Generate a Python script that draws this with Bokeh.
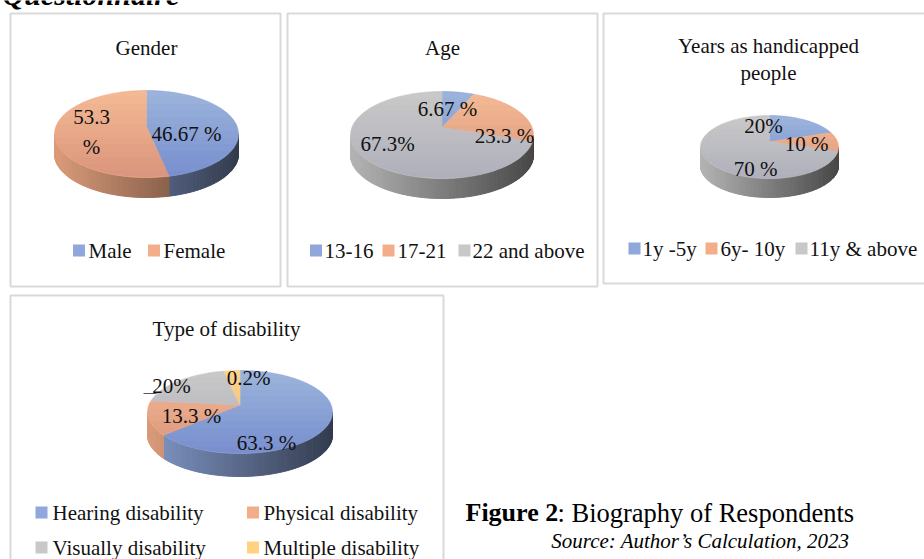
import numpy as np
from bokeh.plotting import figure
from bokeh.models import Range1d, ColumnDataSource
from bokeh.core.properties import value
from bokeh.embed import file_html
from bokeh.resources import INLINE

# ---------------- data ----------------
gender_categories = ["Male", "Female"]
gender_values = [46.67, 53.3]
gender_labels = ["46.67 %", "53.3\n%"]

age_categories = ["13-16", "17-21", "22 and above"]
age_values = [6.67, 23.3, 70.0]
age_labels = ["6.67 %", "23.3 %", "67.3%"]

years_categories = ["1y -5y", "6y- 10y", "11y & above"]
years_values = [20.0, 10.0, 70.0]
years_labels = ["20%", "10 %", "70 %"]

disability_categories = ["Hearing disability", "Physical disability",
                         "Visually disability", "Multiple disability"]
disability_values = [63.3, 13.3, 20.0, 3.3]
disability_labels = ["63.3 %", "13.3 %", "20%", "0.2%"]

# ---------------- styling ----------------
BLUE, SALMON, GREY, YELLOW = "#8FA7DB", "#F3AD88", "#C8C8C8", "#FFD27F"
FONT = value("Liberation Serif")
TXT = "#111111"
FRAME = "#D9D9D9"
P = 0.17  # perspective of the 3-D pies

panels = [
    dict(frame=(10, 13, 280, 286), titles=[("Gender", 146, 47)],
         pie=(146, 133.5, 92, 43.5, 20),
         cats=gender_categories, vals=gender_values, labs=gender_labels,
         lab_xy=[(186, 133), (91, 131)],
         legend=[(78.5, 88, 250), (153.5, 163, 250)],
         colors=[BLUE, SALMON]),
    dict(frame=(287, 13, 597, 286), titles=[("Age", 442, 47)],
         pie=(441.5, 134.5, 91.5, 43.5, 20),
         cats=age_categories, vals=age_values, labs=age_labels,
         lab_xy=[(447, 108), (504, 135), (387, 143)],
         legend=[(315.5, 324, 250), (388, 397, 250), (464, 472, 250)],
         colors=[BLUE, SALMON, GREY]),
    dict(frame=(603, 13, 930, 283),
         titles=[("Years as handicapped", 768, 45), ("people", 768, 72)],
         pie=(769, 146.5, 69, 31.5, 19),
         cats=years_categories, vals=years_values, labs=years_labels,
         lab_xy=[(763, 125), (806, 143), (755, 168)],
         legend=[(634, 642, 248), (711, 720, 248), (801, 809, 248)],
         colors=[BLUE, SALMON, GREY]),
    dict(frame=(10, 295, 443, 570), titles=[("Type of disability", 226, 328)],
         pie=(239.5, 411.5, 92.5, 41.5, 23),
         cats=disability_categories, vals=disability_values, labs=disability_labels,
         lab_xy=[(266, 442), (191, 415), (171, 385), (248, 377)],
         legend=[(41, 52, 512), (252.5, 263, 512), (41, 52, 547), (252.5, 263, 547)],
         colors=[BLUE, SALMON, GREY, YELLOW]),
]


def hex_rgb(h):
    h = h.lstrip("#")
    return np.array([int(h[i:i + 2], 16) for i in (0, 2, 4)], dtype=float)


def rgb_hex(c):
    c = np.clip(c, 0, 255).astype(int)
    return "#%02x%02x%02x" % tuple(c)


def proj(cx, cy, rx, ry, th):
    s, c = np.sin(th), np.cos(th)
    d = 1 + P * c
    x = cx + rx * np.sqrt(1 - P * P) * s / d
    y = cy - P * ry + ry * (1 - P * P) * (-c) / d
    return x, y


def ellipse_region(cx, cy, rx, ry, y0, y1, n=40):
    """Polygon of the part of an ellipse between heights y0 < y1."""
    ys = np.linspace(y0, y1, n)
    half = rx * np.sqrt(np.clip(1 - ((ys - cy) / ry) ** 2, 0, 1))
    xs = np.concatenate([cx - half, (cx + half)[::-1]])
    yy = np.concatenate([ys, ys[::-1]])
    return list(xs), list(yy)


p = figure(width=924, height=559, x_range=Range1d(0, 924), y_range=Range1d(559, 0),
           output_backend="svg", toolbar_location=None,
           x_axis_type=None, y_axis_type=None, min_border=0)
p.grid.visible = False
p.outline_line_color = None
p.background_fill_color = "white"
p.border_fill_color = "white"

# heading fragment at very top (mostly cut off, as in the source page)
p.text(x=[2], y=[-6], text=["Questionnaire"], text_font=value("Liberation Serif"),
       text_font_size="30px", text_font_style="bold italic", text_color="#000000",
       text_baseline="alphabetic", text_align="left")

# panel frames
fx0 = [pn["frame"][0] for pn in panels]
fy0 = [pn["frame"][1] for pn in panels]
fx1 = [pn["frame"][2] for pn in panels]
fy1 = [pn["frame"][3] for pn in panels]
p.quad(left=fx0, right=fx1, top=fy0, bottom=fy1, fill_color=None,
       line_color=FRAME, line_width=2)

side_xs, side_ys, side_c = [], [], []
top_xs, top_ys, top_c = [], [], []
lw_xs, lw_ys = [], []
dk_xs, dk_ys = [], []
lab_x, lab_y, lab_t = [], [], []
leg_sx, leg_sy, leg_sc = [], [], []
leg_tx, leg_ty, leg_tt = [], [], []
tit_x, tit_y, tit_t = [], [], []

vis0 = np.arccos(-P)
vis1 = 2 * np.pi - vis0
NL = 12

for pn in panels:
    cx, cy, rx, ry, depth = pn["pie"]
    vals = np.array(pn["vals"], dtype=float)
    frac = vals / vals.sum()
    edges = np.concatenate([[0], np.cumsum(frac)]) * 2 * np.pi
    ccx, ccy = cx, cy - P * ry
    for i, col in enumerate(pn["colors"]):
        a0, a1 = edges[i], edges[i + 1]
        # side wall strips
        s0, s1 = max(a0, vis0), min(a1, vis1)
        if s1 > s0:
            n = max(2, int(np.degrees(s1 - s0) / 1.5) + 1)
            th = np.linspace(s0, s1, n)
            xs, ys = proj(cx, cy, rx, ry, th)
            base = hex_rgb(col)
            for k in range(n - 1):
                qx = [xs[k], xs[k + 1], xs[k + 1], xs[k]]
                qy = [ys[k], ys[k + 1], ys[k + 1] + depth, ys[k] + depth]
                t = ((xs[k] + xs[k + 1]) / 2 - (cx - rx)) / (2 * rx)
                shade = 0.90 - 0.54 * t
                side_xs.append(qx)
                side_ys.append(qy)
                side_c.append(rgb_hex(base * shade))
        # top face
        n = max(3, int(np.degrees(a1 - a0) / 1.0) + 2)
        th = np.linspace(a0, a1, n)
        xs, ys = proj(cx, cy, rx, ry, th)
        top_xs.append([ccx] + list(xs))
        top_ys.append([ccy] + list(ys))
        top_c.append(col)
        # data label
        lab_x.append(pn["lab_xy"][i][0])
        lab_y.append(pn["lab_xy"][i][1])
        lab_t.append(pn["labs"][i])
        # legend
        sx, tx, ly = pn["legend"][i]
        leg_sx.append(sx)
        leg_sy.append(ly)
        leg_sc.append(col)
        leg_tx.append(tx)
        leg_ty.append(ly)
        leg_tt.append(pn["cats"][i])
    # soft top-to-bottom shading of the top face
    for k in range(1, NL + 1):
        yk = cy - ry + 2 * ry * k / (NL + 1)
        ex, ey = ellipse_region(cx, cy, rx, ry, cy - ry, yk)
        lw_xs.append(ex)
        lw_ys.append(ey)
        ex, ey = ellipse_region(cx, cy, rx, ry, yk, cy + ry)
        dk_xs.append(ex)
        dk_ys.append(ey)
    for (tt, x, y) in pn["titles"]:
        tit_x.append(x)
        tit_y.append(y)
        tit_t.append(tt)

p.patches(xs="xs", ys="ys", fill_color="c", line_color="c", line_width=1,
          source=ColumnDataSource(dict(xs=side_xs, ys=side_ys, c=side_c)))
p.patches(xs="xs", ys="ys", fill_color="c", line_color="c", line_width=0.6,
          source=ColumnDataSource(dict(xs=top_xs, ys=top_ys, c=top_c)))
p.patches(xs=lw_xs, ys=lw_ys, fill_color="white", fill_alpha=0.014, line_color=None)
p.patches(xs=dk_xs, ys=dk_ys, fill_color="#1a2a50", fill_alpha=0.006, line_color=None)

# leader line of the "20%" label
p.segment(x0=[143], y0=[393], x1=[156], y1=[393], line_color="#595959", line_width=1.2)

p.text(x=lab_x, y=lab_y, text=lab_t, text_font=FONT, text_font_size="21px",
       text_color=TXT, text_align="center", text_baseline="middle", text_line_height=1.25)
p.text(x=tit_x, y=tit_y, text=tit_t, text_font=FONT, text_font_size="21px",
       text_color=TXT, text_align="center", text_baseline="middle")
p.rect(x=leg_sx, y=leg_sy, width=12, height=12, fill_color=leg_sc, line_color=None)
p.text(x=leg_tx, y=leg_ty, text=leg_tt, text_font=FONT, text_font_size="21px",
       text_color=TXT, text_align="left", text_baseline="middle")

# caption
p.text(x=[465], y=[512], text=["Figure 2"], text_font=FONT, text_font_size="26px",
       text_font_style="bold", text_color="#000000", text_align="left", text_baseline="middle")
p.text(x=[557], y=[512], text=[": Biography of Respondents"], text_font=FONT,
       text_font_size="26.5px", text_color="#000000", text_align="left", text_baseline="middle")
p.text(x=[849], y=[540], text=["Source: Author\u2019s Calculation, 2023"], text_font=FONT,
       text_font_size="21px", text_font_style="italic", text_color="#000000",
       text_align="right", text_baseline="middle")

open("out.html", "w").write(file_html(p, INLINE))
